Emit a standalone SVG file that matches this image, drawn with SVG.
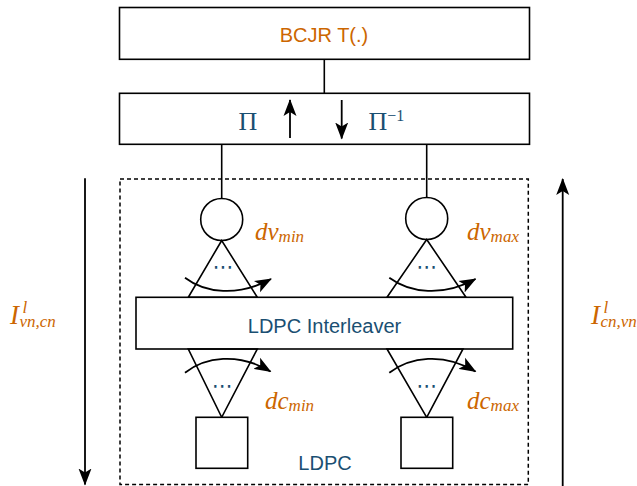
<svg xmlns="http://www.w3.org/2000/svg" width="637" height="486" viewBox="0 0 637 486">
<style>
.box{fill:#fff;stroke:#000;stroke-width:1.6}
.ln{fill:none;stroke:#000;stroke-width:1.6}
.arr{fill:none;stroke:#000;stroke-width:1.8;marker-end:url(#ah)}
.lbl{font-family:"Liberation Sans",Arial,sans-serif;font-size:20px;fill:#1a4f72;text-anchor:middle}
.or{font-family:"Liberation Sans",Arial,sans-serif;font-size:20px;fill:#cc6600;text-anchor:middle}
.mi{font-family:"Liberation Serif","Times New Roman",serif;font-style:italic;fill:#cc6600}
.pi{font-family:"Liberation Serif","Times New Roman",serif;fill:#1a4f72}
.dots{font-family:"DejaVu Sans",sans-serif;font-size:21px;fill:#1a4f72;text-anchor:middle}
</style>
<defs>
<marker id="ah" viewBox="0 0 17 14" refX="16" refY="7" markerWidth="17" markerHeight="14" markerUnits="userSpaceOnUse" orient="auto">
<path d="M0,0.5 L17,7 L0,13.5 L4,7 z" fill="#000"/>
</marker>
</defs>
<g id="connectors">
<line class="ln" x1="324.3" y1="59.5" x2="324.3" y2="93.3"/>
<line class="ln" x1="221.7" y1="144.3" x2="221.7" y2="198.3"/>
<line class="ln" x1="426.7" y1="144.3" x2="426.7" y2="198"/>
<line class="arr" x1="85" y1="178.3" x2="85" y2="484.5"/>
<line class="arr" x1="562.7" y1="486" x2="562.7" y2="179"/>
</g>
<g id="ldpc">
<rect x="120" y="179" width="408.3" height="305.5" fill="none" stroke="#000" stroke-width="1.5" stroke-dasharray="4 3"/>
<text class="lbl" x="325" y="470">LDPC</text>
</g>
<g id="bcjr">
<rect class="box" x="119.5" y="7.5" width="410" height="51.8"/>
<text class="or" x="324" y="42.3">BCJR T(.)</text>
</g>
<g id="pi">
<rect class="box" x="119.5" y="93.3" width="410" height="51"/>
<text class="pi" x="238.5" y="130.3" font-size="26">Π</text>
<line class="arr" x1="290" y1="138" x2="290" y2="100"/>
<line class="arr" x1="341.7" y1="100" x2="341.7" y2="138.5"/>
<text class="pi" x="368.5" y="130.3" font-size="26">Π<tspan font-size="16" dy="-9">−1</tspan></text>
</g>
<g id="vn-min">
<circle class="box" cx="221.7" cy="219.5" r="21"/>
<polygon class="ln" points="221.7,240.5 188.3,297.3 257.3,297.3"/>
<text class="dots" x="223.3" y="274">⋯</text>
<path class="arr" d="M185,277.7 C205,293 238,297 271,279"/>
<text class="mi" x="255" y="239.5" font-size="25">dv<tspan font-size="17" dy="2.3">min</tspan></text>
</g>
<g id="vn-max">
<circle class="box" cx="426.7" cy="218.5" r="21"/>
<polygon class="ln" points="426.7,239.5 387,297.3 466,297.3"/>
<text class="dots" x="427" y="274">⋯</text>
<path class="arr" d="M389.3,277.7 C410,293 443,297 475.5,279"/>
<text class="mi" x="467" y="239.5" font-size="25">dv<tspan font-size="17" dy="2.3">max</tspan></text>
</g>
<g id="interleaver">
<rect class="box" x="136" y="297.3" width="376.7" height="51.7"/>
<text class="lbl" x="324.5" y="333">LDPC Interleaver</text>
</g>
<g id="cn-min">
<polygon class="ln" points="188.3,349 257.3,349 221.7,417.3"/>
<rect class="box" x="196" y="417.3" width="51.7" height="51"/>
<text class="dots" x="222.5" y="393.3">⋯</text>
<path class="arr" d="M185,372.7 C205,357 238,352 270.5,371.5"/>
<text class="mi" x="265" y="409" font-size="25">dc<tspan font-size="17" dy="2.3">min</tspan></text>
</g>
<g id="cn-max">
<polygon class="ln" points="387,349 463,349 426.7,417.3"/>
<rect class="box" x="401" y="417.3" width="51.7" height="51"/>
<text class="dots" x="427" y="393.3">⋯</text>
<path class="arr" d="M389.3,372.7 C410,357 443,352 475.5,371.5"/>
<text class="mi" x="467" y="409" font-size="25">dc<tspan font-size="17" dy="2.3">max</tspan></text>
</g>
<g id="labels">
<text class="mi"><tspan x="10" y="323.5" font-size="27">I</tspan><tspan x="22.5" y="313" font-size="17">l</tspan><tspan x="19.5" y="326.5" font-size="17">vn,cn</tspan></text>
<text class="mi"><tspan x="591" y="323.5" font-size="27">I</tspan><tspan x="603.5" y="313" font-size="17">l</tspan><tspan x="600.5" y="326.5" font-size="17">cn,vn</tspan></text>
</g>
</svg>
